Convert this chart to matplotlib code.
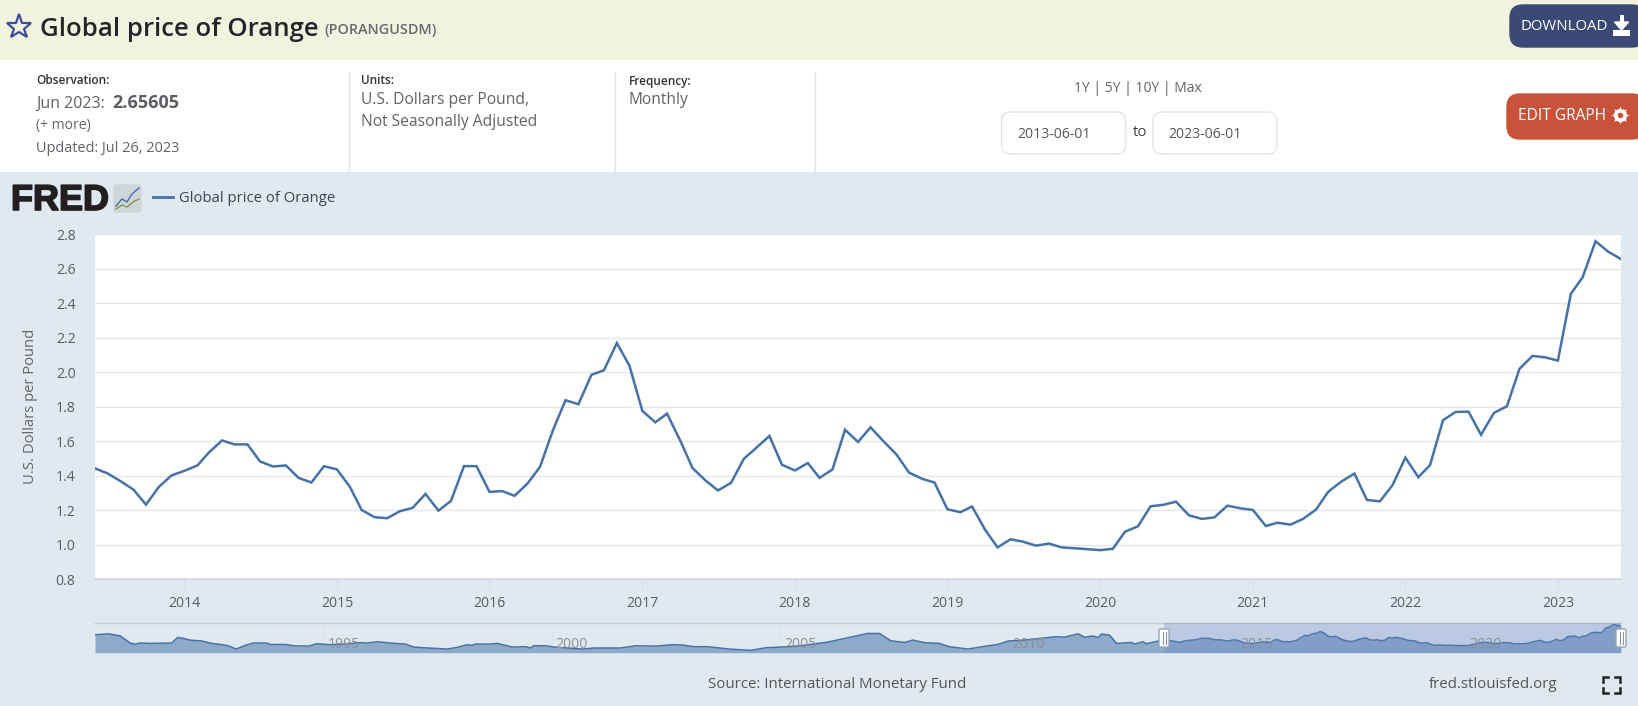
import matplotlib
matplotlib.use("Agg")
import matplotlib.pyplot as plt
import matplotlib.dates as mdates
import matplotlib.patheffects as pe
from matplotlib.patches import FancyBboxPatch, Rectangle
import pandas as pd

plt.rcParams["font.family"] = ["Open Sans", "DejaVu Sans"]

# main series, monthly Jun 2013 - Jun 2023
price = [
    1.443, 1.414, 1.369, 1.320, 1.233, 1.336, 1.402, 1.429, 1.460, 1.536, 1.605, 1.582,
    1.582, 1.483, 1.454, 1.460, 1.388, 1.361, 1.456, 1.437, 1.336, 1.202, 1.160, 1.154,
    1.195, 1.214, 1.295, 1.198, 1.255, 1.456, 1.456, 1.307, 1.311, 1.284, 1.355, 1.452,
    1.665, 1.838, 1.815, 1.985, 2.012, 2.170, 2.038, 1.776, 1.710, 1.760, 1.607, 1.445,
    1.373, 1.315, 1.359, 1.499, 1.563, 1.631, 1.464, 1.431, 1.474, 1.388, 1.437, 1.667,
    1.596, 1.681, 1.600, 1.524, 1.419, 1.383, 1.361, 1.206, 1.189, 1.222, 1.088, 0.985,
    1.032, 1.018, 0.995, 1.007, 0.985, 0.980, 0.975, 0.969, 0.977, 1.076, 1.107, 1.223,
    1.232, 1.250, 1.171, 1.150, 1.159, 1.227, 1.212, 1.202, 1.109, 1.128, 1.117, 1.150,
    1.204, 1.309, 1.367, 1.413, 1.260, 1.252, 1.345, 1.505, 1.392, 1.462, 1.722, 1.770,
    1.772, 1.638, 1.765, 1.803, 2.020, 2.095, 2.087, 2.068, 2.455, 2.550, 2.760, 2.700,
    2.656,
]
dates = pd.date_range("2013-06-01", "2023-06-01", freq="MS")

y_ticks = [0.8, 1.0, 1.2, 1.4, 1.6, 1.8, 2.0, 2.2, 2.4, 2.6, 2.8]
nav_labels = [1995, 2000, 2005, 2010, 2015, 2020]

# navigator history before the selected range
hist_years = [
    1990.0, 1990.29, 1990.55, 1990.66, 1990.77, 1990.88, 1990.99, 1991.24, 1991.68, 1991.81,
    1991.94, 1992.08, 1992.34, 1992.56, 1992.70, 1992.92, 1993.09, 1993.29, 1993.47, 1993.76,
    1993.84, 1994.17, 1994.35, 1994.68, 1994.86, 1995.15, 1995.45, 1995.81, 1995.96, 1996.18,
    1996.47, 1996.80, 1996.98, 1997.20, 1997.71, 1997.93, 1998.15, 1998.26, 1998.33, 1998.66,
    1998.81, 1999.14, 1999.43, 1999.53, 1999.61, 1999.87, 2000.05, 2000.67, 2000.93, 2001.51,
    2001.84, 2002.28, 2002.65, 2002.87, 2003.12, 2003.41, 2003.89, 2004.36, 2004.69, 2005.02,
    2005.46, 2005.83, 2006.05, 2006.59, 2006.92, 2007.18, 2007.43, 2007.73, 2007.91, 2008.17,
    2008.49, 2008.71, 2009.12, 2009.48, 2009.77, 2010.0, 2010.36, 2011.02, 2011.24, 2011.53,
    2011.67, 2011.86, 2011.97, 2012.04, 2012.22, 2012.37, 2012.70, 2012.77, 2012.95, 2013.03,
    2013.33,
]
hist_values = [
    1.89, 1.97, 1.80, 1.50, 1.19, 1.10, 1.19, 1.16, 1.19, 1.66,
    1.58, 1.44, 1.36, 1.16, 1.10, 0.96, 0.68, 0.99, 1.19, 1.19,
    1.07, 1.07, 0.96, 0.93, 1.13, 1.05, 1.10, 1.22, 1.19, 1.30,
    1.19, 1.10, 0.85, 0.79, 0.68, 0.82, 1.05, 0.99, 1.10, 1.10,
    1.16, 0.85, 0.88, 0.77, 0.96, 0.96, 0.85, 0.68, 0.77, 0.77,
    0.96, 0.93, 1.05, 1.02, 0.88, 0.88, 0.68, 0.57, 0.79, 0.85,
    0.96, 1.16, 1.27, 1.72, 2.00, 2.00, 1.38, 1.24, 1.44, 1.22,
    1.16, 0.88, 0.68, 0.91, 1.07, 1.36, 1.44, 1.72, 1.69, 1.97,
    1.69, 1.78, 1.66, 1.95, 1.86, 1.16, 1.24, 1.10, 1.30, 1.13,
    1.40,
]

W, H = 1638, 706
BG = "#e1e9f0"
LINE = "#4572a7"
px = 0.72  # css px to pt at dpi 100

fig = plt.figure(figsize=(W / 100, H / 100), dpi=100, facecolor=BG)

# page chrome, drawn in pixel coordinates
page = fig.add_axes([0, 0, 1, 1], zorder=2)
page.set_xlim(0, W)
page.set_ylim(H, 0)
page.axis("off")


def label(x, y, s, size=14, color="#5f6368", weight="normal", ha="left", **kw):
    return page.text(x, y, s, fontsize=size * px, color=color, weight=weight, ha=ha, va="center", **kw)


def button(x0, y0, x1, y1, color, edge=None, r=12):
    page.add_patch(FancyBboxPatch((x0 + r, y0 + r), x1 - x0 - 2 * r, y1 - y0 - 2 * r,
                                  boxstyle=f"round,pad={r},rounding_size={r}",
                                  fc=color, ec=edge or color, lw=1))


page.add_patch(Rectangle((0, 0), W, 60, fc="#f2f3de", ec="none"))
page.add_patch(Rectangle((0, 60), W, 112, fc="white", ec="none"))
for x in [348.5, 615, 815]:
    page.plot([x, x], [72, 172], color="#dde5ec", lw=1)

page.plot([18.5], [27], marker="*", ms=18.5, mfc="none", mec="#3a4f99", mew=1.6)
label(40, 29, "Global price of Orange", size=25.8, color="#22252b", weight="semibold")
label(324, 30, "(PORANGUSDM)", size=14.4, color="#666a70", weight="semibold")

label(36, 81, "Observation:", size=11.7, color="#333333", weight="semibold")
label(36, 104, "Jun 2023:", size=16)
label(112, 103, "2.65605", size=18, color="#5a5d62", weight="bold")
label(36, 126, "(+ more)", size=14)
label(36, 148, "Updated: Jul 26, 2023", size=14.5)
label(361, 81, "Units:", size=11.7, color="#333333", weight="semibold")
label(361, 100.5, "U.S. Dollars per Pound,", size=15.6)
label(361, 122.5, "Not Seasonally Adjusted", size=15.6)
label(629, 81, "Frequency:", size=11.7, color="#333333", weight="semibold")
label(629, 100.5, "Monthly", size=15.5)

label(1138, 89, "1Y | 5Y | 10Y | Max", size=13.9, ha="center")
button(1001.5, 112, 1125.5, 154, "white", edge="#dfe5ee", r=9)
button(1153, 112, 1277, 154, "white", edge="#dfe5ee", r=9)
label(1017, 134, "2013-06-01", size=14, color="#555555")
label(1168, 134, "2023-06-01", size=14, color="#555555")
label(1140, 133, "to", size=15, color="#444444", ha="center")

button(1510, 5, 1645, 47, "#3a4a75", r=13)
label(1564, 26, "DOWNLOAD", size=15, color="white", ha="center")
page.add_patch(Rectangle((1619.5, 15), 4, 8, fc="white", ec="none"))
page.fill([1614.5, 1628.5, 1621.5], [22, 22, 30], color="white")
page.add_patch(Rectangle((1613, 30), 17, 6, fc="white", ec="none"))
button(1507, 94, 1645, 139, "#c9533a", r=13)
label(1562, 116, "EDIT GRAPH", size=15.5, color="white", ha="center")
page.plot([1620], [115], marker=(8, 1, 0), ms=13, color="white", mew=0)
page.plot([1620], [115], marker="o", ms=9.5, color="white", mew=0)
page.plot([1620], [115], marker="o", ms=4, color="#c9533a", mew=0)

# FRED logo and legend
page.text(11, 200.5, "FRED", fontsize=36 * px, color="#231f20", weight="bold", va="center",
          family="Liberation Sans", path_effects=[pe.withStroke(linewidth=1.2, foreground="#231f20")])
button(114, 185, 141, 212, "#cfd6d9", r=2)
page.plot([116, 122, 127, 132, 139], [206, 199, 202, 194, 188], color="#4572a7", lw=1)
page.plot([116, 122, 127, 133, 139], [209, 205, 207, 202, 199], color="#7f9a48", lw=1)
page.plot([153, 173], [197, 197], color=LINE, lw=2.0)
label(179, 198, "Global price of Orange", size=14.9, color="#3a4456", weight="medium")

label(31, 406, "U.S. Dollars per Pound", size=14.8, color="#666666", ha="center", rotation=90)
label(708, 684, "Source: International Monetary Fund", size=15, color="#555555")
label(1429, 684, "fred.stlouisfed.org", size=15, color="#555555")
for cx, cy, dx, dy in [(1603, 677, 1, 1), (1620, 677, -1, 1), (1603, 693, 1, -1), (1620, 693, -1, -1)]:
    page.plot([cx + 5 * dx, cx, cx], [cy, cy, cy + 5 * dy], color="#222222", lw=1.8, solid_joinstyle="miter")

# main chart
ax = fig.add_axes([95 / W, 1 - 579.3 / H, 1526 / W, 345 / H], zorder=1, facecolor="white")
ax.plot(dates, price, color=LINE, lw=1.8, solid_joinstyle="miter", zorder=3)
ax.set_xlim(dates[0], dates[-1])
ax.set_ylim(0.8, 2.8)
ax.set_yticks(y_ticks)
ax.set_yticklabels([f"{v:.1f}" for v in y_ticks])
ax.xaxis.set_major_locator(mdates.YearLocator())
ax.xaxis.set_major_formatter(mdates.DateFormatter("%Y"))
ax.grid(axis="y", color="#e6e6e6", lw=1.0, zorder=1)
ax.tick_params(axis="y", length=0, pad=14, labelsize=14 * px, labelcolor="#555c6e")
ax.tick_params(axis="x", length=7, width=0.8, color="#d6deea", pad=5, labelsize=14 * px, labelcolor="#555c6e")
for name, sp in ax.spines.items():
    sp.set_visible(name == "bottom")
ax.spines["bottom"].set_color("#ccd6eb")
ax.spines["bottom"].set_linewidth(1.1)

# navigator
nav = fig.add_axes([95 / W, 1 - 652.7 / H, 1526 / W, 30.2 / H], zorder=1, facecolor=BG)
nav_years = hist_years + [d.year + (d.month - 1) / 12 for d in dates]
nav_values = hist_values + price
nav.fill_between(nav_years, 0.372, nav_values, color="#8fa9c9", lw=0, zorder=2)
nav.plot(nav_years, nav_values, color=LINE, lw=1.1, zorder=3)
nav.set_xlim(1990, 2023.42)
nav.set_ylim(0.372, 2.93)
nav.set_yticks([])
nav.set_xticks([])
for sp in nav.spines.values():
    sp.set_visible(False)
nav.spines["top"].set_visible(True)
nav.spines["top"].set_color("#c8cacc")
nav.spines["top"].set_linewidth(1.0)
nav.axvspan(2013.42, 2023.42, color="#6685c2", alpha=0.3, lw=0, zorder=5)
for yr in nav_labels:
    nav.axvline(yr, color="#dde5ec", lw=0.8, zorder=1)
    nav.text(yr + 0.44, 1.05, str(yr), fontsize=14 * px, color="#8b9097", ha="center", va="center", zorder=6)

for x0 in [1159, 1616]:
    button(x0, 629, x0 + 10, 647, "white", edge="#9aa5b5", r=1.5)
    page.plot([x0 + 4, x0 + 4], [632, 644], color="#8a94a3", lw=0.8)
    page.plot([x0 + 6.5, x0 + 6.5], [632, 644], color="#8a94a3", lw=0.8)

page.patch.set_visible(False)
page.set_xlim(0, W)
page.set_ylim(H, 0)
fig.savefig("out.png", dpi=100, facecolor=BG)
